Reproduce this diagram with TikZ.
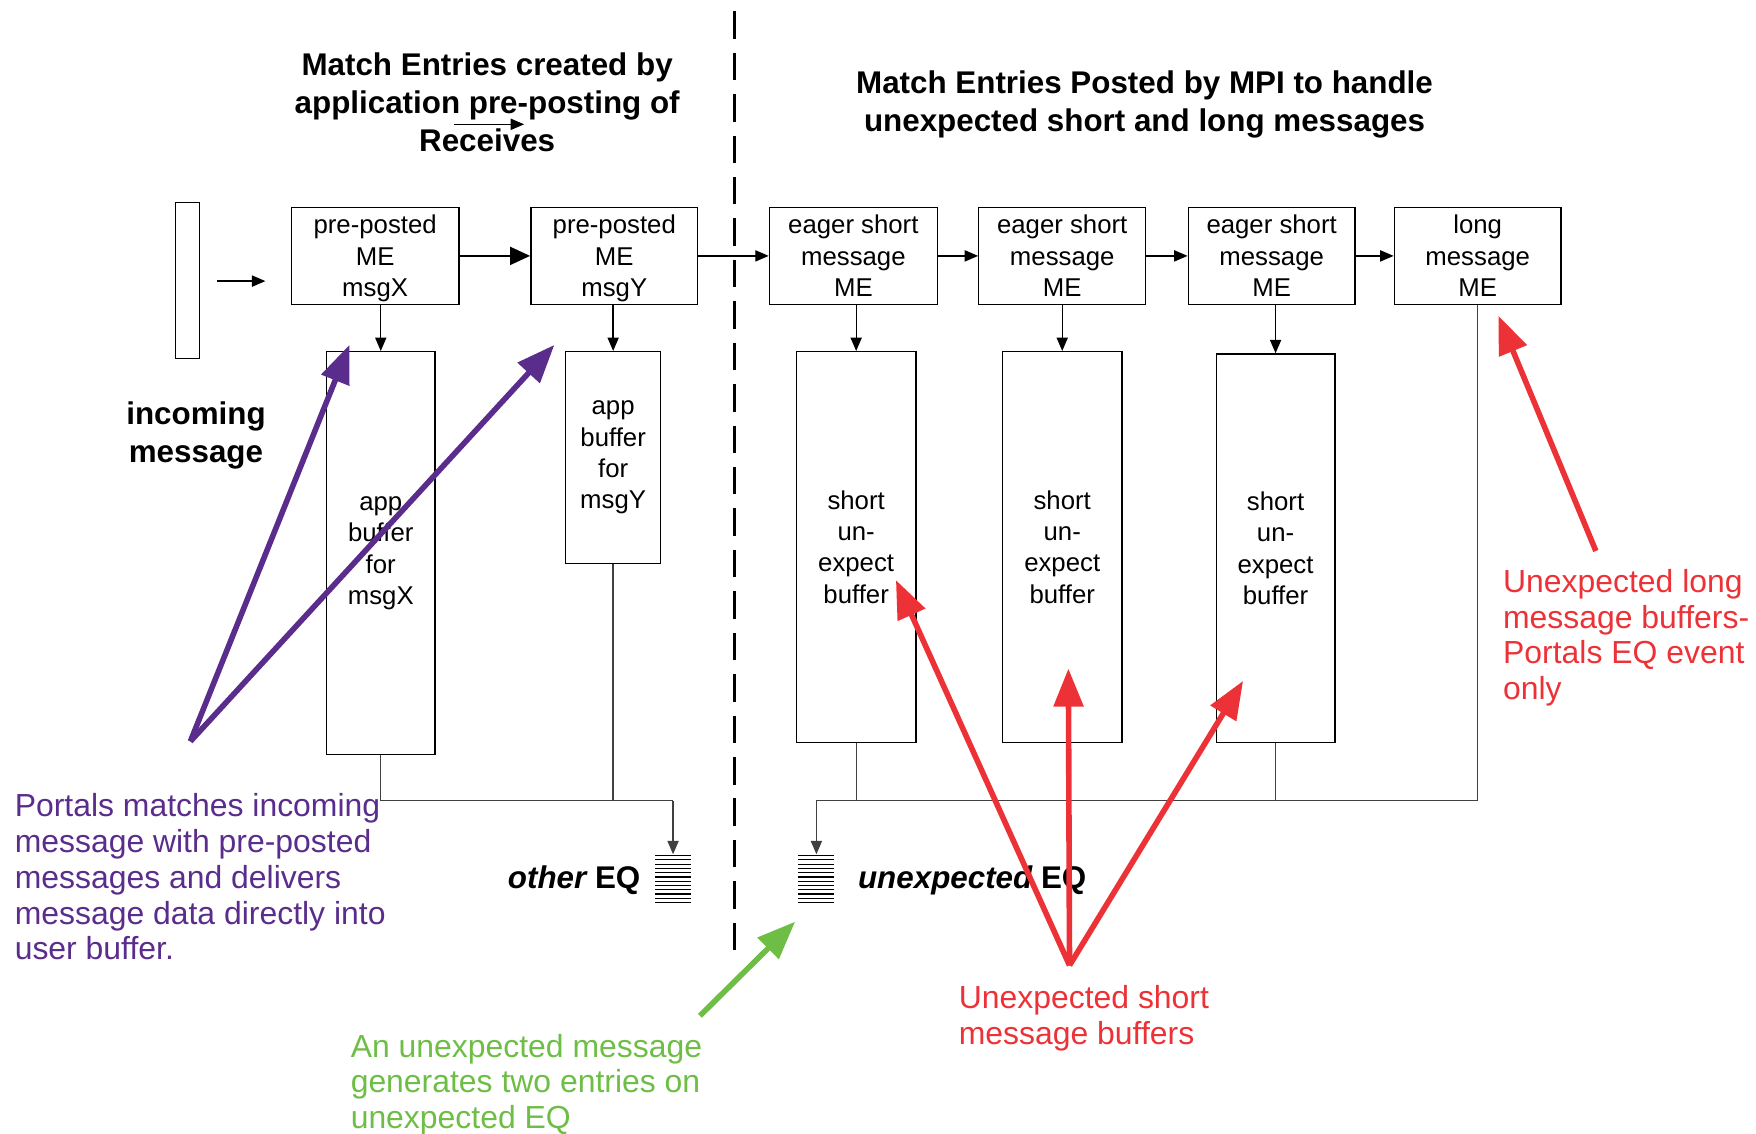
\documentclass[tikz,border=0pt]{standalone}
\usepackage{fontspec}
\setmainfont{Liberation Sans}
\usetikzlibrary{arrows.meta}
\definecolor{pur}{RGB}{90,45,140}
\definecolor{redc}{RGB}{237,50,55}
\definecolor{grn}{RGB}{110,190,70}
\tikzset{
  box/.style={draw, line width=1.2pt, align=center, inner sep=0pt, font=\fontsize{23}{28}\selectfont},
  mebox/.style={box, minimum height=87pt, text depth=0pt},
  arr/.style={-{Triangle[length=12pt,width=10pt]}, line width=1.2pt},
  thickarr/.style={-{Triangle[length=18pt,width=16pt]}, line width=2.2pt},
  wire/.style={line width=1.2pt, draw=black!75},
  bigarr/.style={line width=5pt, -{Triangle[length=34pt,width=26pt]}},
  ttl/.style={align=center, inner sep=0pt, font=\fontsize{28}{34}\selectfont\bfseries},
  note/.style={align=left, inner sep=0pt, font=\fontsize{28.5}{32}\selectfont},
  eqlab/.style={inner sep=0pt, font=\fontsize{28}{34}\selectfont\bfseries}
}
\begin{document}
\begin{tikzpicture}[x=1pt,y=-1pt]
\useasboundingbox (0,0) rectangle (1568,1012);

% dashed divider
\draw[line width=2.6pt, dash pattern=on 24.5pt off 12.5pt] (656,10) -- (656,850);

% titles
\node[ttl] (t1) at (435,91) {Match Entries created by\\application pre-posting of\\Receives};
\node[ttl] (t2) at (1022,93) {Match Entries Posted by MPI to handle\\unexpected short and long messages};
\coordinate (ta) at (405,111);
\coordinate (tb) at (468,111);
\draw[arr] (ta) -- (tb);

% incoming message
\node[draw, line width=1.2pt, minimum width=21pt, minimum height=139pt, inner sep=0pt] (inc) at (167.5,250.5) {};
\coordinate (ia) at (194,251);
\coordinate (ib) at (237,251);
\draw[arr] (ia) -- (ib);
\node[ttl] (incl) at (175,388.5) {incoming\\message};

% ME boxes
\node[mebox, minimum width=150pt] (mx) at (335,228.5) {pre-posted\\ME\\msgX};
\node[mebox, minimum width=149pt] (my) at (548.5,228.5) {pre-posted\\ME\\msgY};
\node[mebox, minimum width=150pt] (e1) at (762,228.5) {eager short\\message\\ME};
\node[mebox, minimum width=149pt] (e2) at (948.5,228.5) {eager short\\message\\ME};
\node[mebox, minimum width=149pt] (e3) at (1135.5,228.5) {eager short\\message\\ME};
\node[mebox, minimum width=149pt] (lg) at (1319.5,228.5) {long\\message\\ME};

\draw[thickarr] (mx.east) -- (my.west);
\draw[arr] (my.east) -- (e1.west);
\draw[arr] (e1.east) -- (e2.west);
\draw[arr] (e2.east) -- (e3.west);
\draw[arr] (e3.east) -- (lg.west);

% buffers
\node[box, minimum width=97pt, minimum height=360pt] (bx) at (340,494) {app\\buffer\\for\\msgX};
\node[box, minimum width=85pt, minimum height=189pt] (by) at (547.5,408.5) {app\\buffer\\for\\msgY};
\node[box, minimum width=107pt, minimum height=349pt] (s1) at (764.5,488.5) {short\\un-\\expect\\buffer};
\node[box, minimum width=107pt, minimum height=349pt] (s2) at (948.5,488.5) {short\\un-\\expect\\buffer};
\node[box, minimum width=106pt, minimum height=347pt] (s3) at (1139,489.5) {short\\un-\\expect\\buffer};

\draw[arr] (mx.south -| bx.north) -- (bx.north);
\draw[arr] (my.south -| by.north) -- (by.north);
\draw[arr] (e1.south -| s1.north) -- (s1.north);
\draw[arr] (e2.south -| s2.north) -- (s2.north);
\draw[arr] (e3.south -| s3.north) -- (s3.north);

% event queues
\node[minimum width=32pt, minimum height=44pt, inner sep=0pt] (eqo) at (601,785) {};
\node[minimum width=32pt, minimum height=44pt, inner sep=0pt] (equ) at (729,785) {};
\foreach \i in {0,...,11} {
  \draw[line width=1.1pt] (585,764+\i*3.8) -- (617,764+\i*3.8);
  \draw[line width=1.1pt] (713,764+\i*3.8) -- (745,764+\i*3.8);
}
\node[eqlab, anchor=east] (eqol) at (572,786) {\itshape other\upshape\ EQ};
\node[eqlab, anchor=west] (equl) at (766,786) {\itshape unexpected\upshape\ EQ};

\coordinate (jl) at (601,715);
\coordinate (jr) at (729,715);
\draw[wire] (bx.south) |- (jl);
\draw[arr, draw=black!75] (jl) -- (eqo.north);
\draw[wire] (by.south) -- (by.south |- jl);
\draw[wire] (lg.south) |- (jr);
\draw[arr, draw=black!75] (jr) -- (equ.north);
\draw[wire] (s1.south) -- (s1.south |- jr);
\draw[wire] (s3.south) -- (s3.south |- jr);

% purple annotation
\coordinate (pt) at (170,662);
\coordinate (pa) at (312,308);
\coordinate (pb) at (495,308);
\draw[bigarr, pur] (pt) -- (pa);
\draw[bigarr, pur] (pt) -- (pb);
\node[note, text=pur, anchor=west] (pnote) at (13,783) {Portals matches incoming\\message with pre-posted\\messages and delivers\\message data directly into\\user buffer.};

% green annotation
\coordinate (gt) at (625,907);
\coordinate (ga) at (710,823);
\draw[bigarr, grn] (gt) -- (ga);
\node[note, text=grn, anchor=west] (gnote) at (313,968.5) {An unexpected message\\generates two entries on\\unexpected EQ};

% red annotations
\coordinate (rt) at (955,862);
\coordinate (ra) at (800,518);
\coordinate (rb) at (954,597);
\coordinate (rc) at (1110,608);
\draw[bigarr, redc] (rt) -- (ra);
\draw[bigarr, redc] (rt) -- (rb);
\draw[bigarr, redc] (rt) -- (rc);
\node[note, text=redc, anchor=west] (rnote) at (856,909.5) {Unexpected short\\message buffers};

\coordinate (lt) at (1425,492);
\coordinate (la) at (1338,282);
\draw[bigarr, redc] (lt) -- (la);
\node[note, text=redc, anchor=west] (lnote) at (1342,569.5) {Unexpected long\\message buffers-\\Portals EQ event\\only};
\end{tikzpicture}
\end{document}
